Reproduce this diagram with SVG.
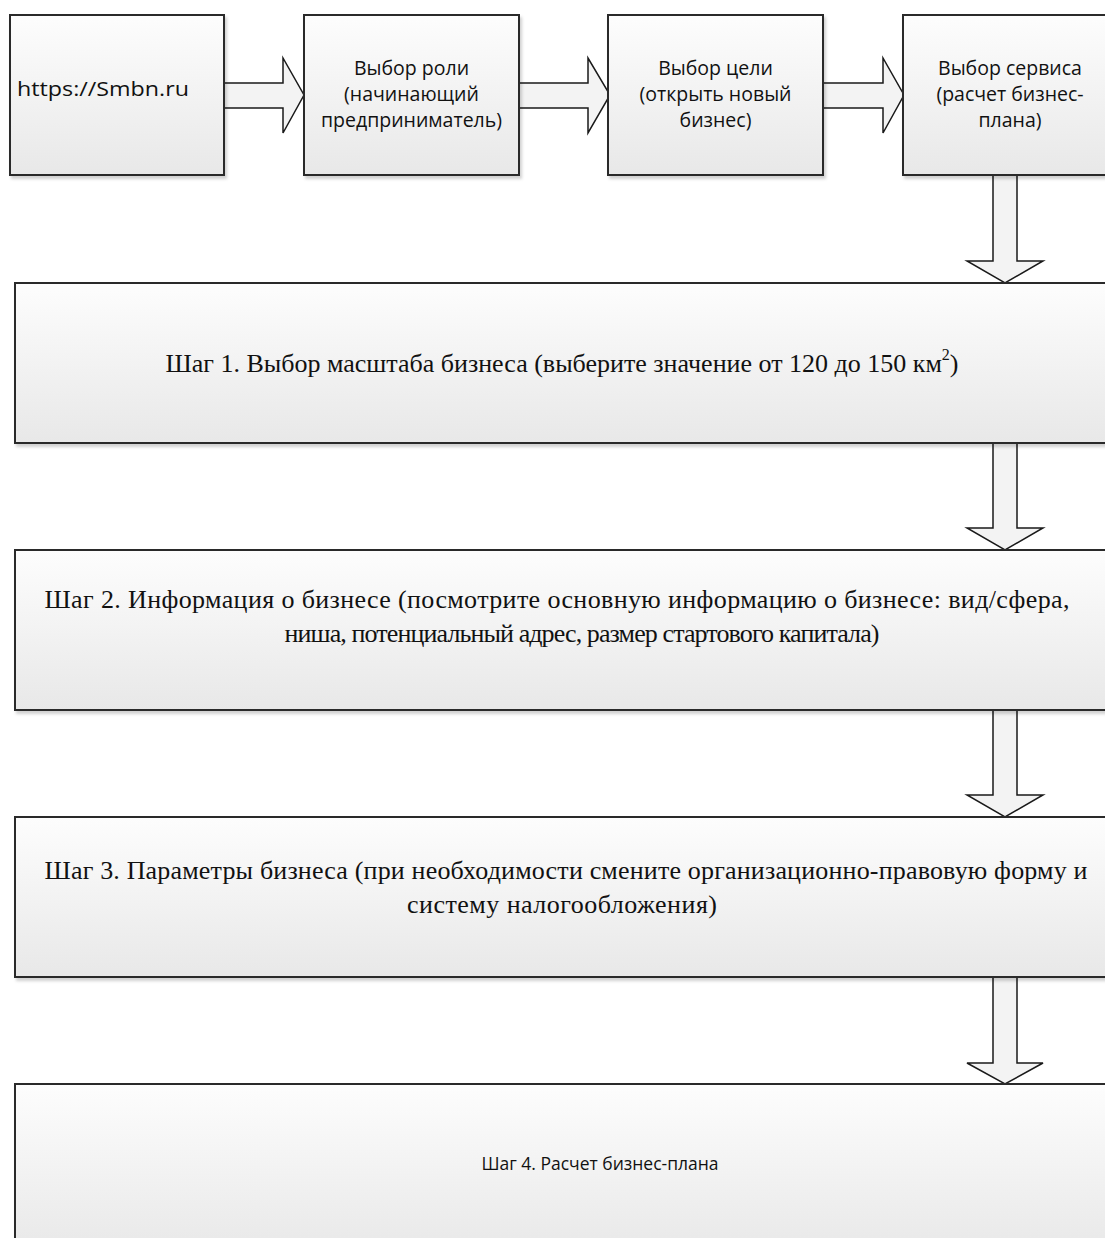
<svg xmlns="http://www.w3.org/2000/svg" width="1105" height="1238" viewBox="0 0 1105 1238">
<defs>
<linearGradient id="g" x1="0" y1="0" x2="0" y2="1">
<stop offset="0" stop-color="#fdfdfd"/>
<stop offset="1" stop-color="#e8e8e8"/>
</linearGradient>
<filter id="sh" x="-5%" y="-5%" width="110%" height="115%">
<feDropShadow dx="2" dy="3" stdDeviation="1.5" flood-color="#000" flood-opacity="0.18"/>
</filter>
</defs>
<style>
.box{fill:url(#g);stroke:#2b2b2b;stroke-width:2;filter:url(#sh)}
.arr{fill:#f3f3f3;stroke:#1a1a1a;stroke-width:1.5;stroke-linejoin:miter}
.s{font-family:"Open Sans","Liberation Sans",sans-serif;font-size:19.5px;fill:#111}
.t{font-family:"Liberation Serif","Times New Roman",serif;font-size:26px;fill:#111}
.big{font-size:20px}
.s4{font-size:17.5px}
</style>
<rect width="1105" height="1238" fill="#fff"/>
<g id="connectors">
<polygon class="arr" points="224,83 283,83 283,58 304,95 283,133 283,108 224,108"/>
<polygon class="arr" points="519,83 588,83 588,58 610,95 588,133 588,108 519,108"/>
<polygon class="arr" points="823,83 883,83 883,58 904,95 883,133 883,108 823,108"/>
<polygon class="arr" points="993,175 1017,175 1017,261 1043,261 1005,283 967,261 993,261"/>
<polygon class="arr" points="993,443 1017,443 1017,528 1043,528 1005,550 967,528 993,528"/>
<polygon class="arr" points="993,710 1017,710 1017,795 1043,795 1005,817 967,795 993,795"/>
<polygon class="arr" points="993,977 1017,977 1017,1063 1043,1063 1005,1084 967,1063 993,1063"/>
</g>
<g id="n1"><rect class="box" x="10" y="15" width="214" height="160"/>
<text class="s big" x="17" y="96" textLength="172" lengthAdjust="spacingAndGlyphs">https://Smbn.ru</text></g>
<g id="n2"><rect class="box" x="304" y="15" width="215" height="160"/>
<text class="s" text-anchor="middle" x="411.5" y="75">Выбор роли</text>
<text class="s" text-anchor="middle" x="411.5" y="101">(начинающий</text>
<text class="s" text-anchor="middle" x="411.5" y="127">предприниматель)</text></g>
<g id="n3"><rect class="box" x="608" y="15" width="215" height="160"/>
<text class="s" text-anchor="middle" x="715.5" y="75">Выбор цели</text>
<text class="s" text-anchor="middle" x="715.5" y="101">(открыть новый</text>
<text class="s" text-anchor="middle" x="715.5" y="127">бизнес)</text></g>
<g id="n4"><rect class="box" x="903" y="15" width="215" height="160"/>
<text class="s" text-anchor="middle" x="1010" y="75">Выбор сервиса</text>
<text class="s" text-anchor="middle" x="1010" y="101">(расчет бизнес-</text>
<text class="s" text-anchor="middle" x="1010" y="127">плана)</text></g>
<g id="step1"><rect class="box" x="15" y="283" width="1095" height="160"/>
<text class="t" text-anchor="middle" x="562" y="372">Шаг 1. Выбор масштаба бизнеса (выберите значение от 120 до 150 км<tspan font-size="16" dy="-12">2</tspan><tspan dy="12">)</tspan></text></g>
<g id="step2"><rect class="box" x="15" y="550" width="1095" height="160"/>
<text class="t" text-anchor="middle" x="557" y="608" textLength="1025">Шаг 2. Информация о бизнесе (посмотрите основную информацию о бизнесе: вид/сфера,</text>
<text class="t" text-anchor="middle" x="582" y="642" textLength="595">ниша, потенциальный адрес, размер стартового капитала)</text></g>
<g id="step3"><rect class="box" x="15" y="817" width="1095" height="160"/>
<text class="t" text-anchor="middle" x="566" y="879" textLength="1043">Шаг 3. Параметры бизнеса (при необходимости смените организационно-правовую форму и</text>
<text class="t" text-anchor="middle" x="562" y="913" textLength="310">систему налогообложения)</text></g>
<g id="step4"><rect class="box" x="15" y="1084" width="1095" height="170"/>
<text class="s s4" text-anchor="middle" x="600" y="1170">Шаг 4. Расчет бизнес-плана</text></g>
</svg>
